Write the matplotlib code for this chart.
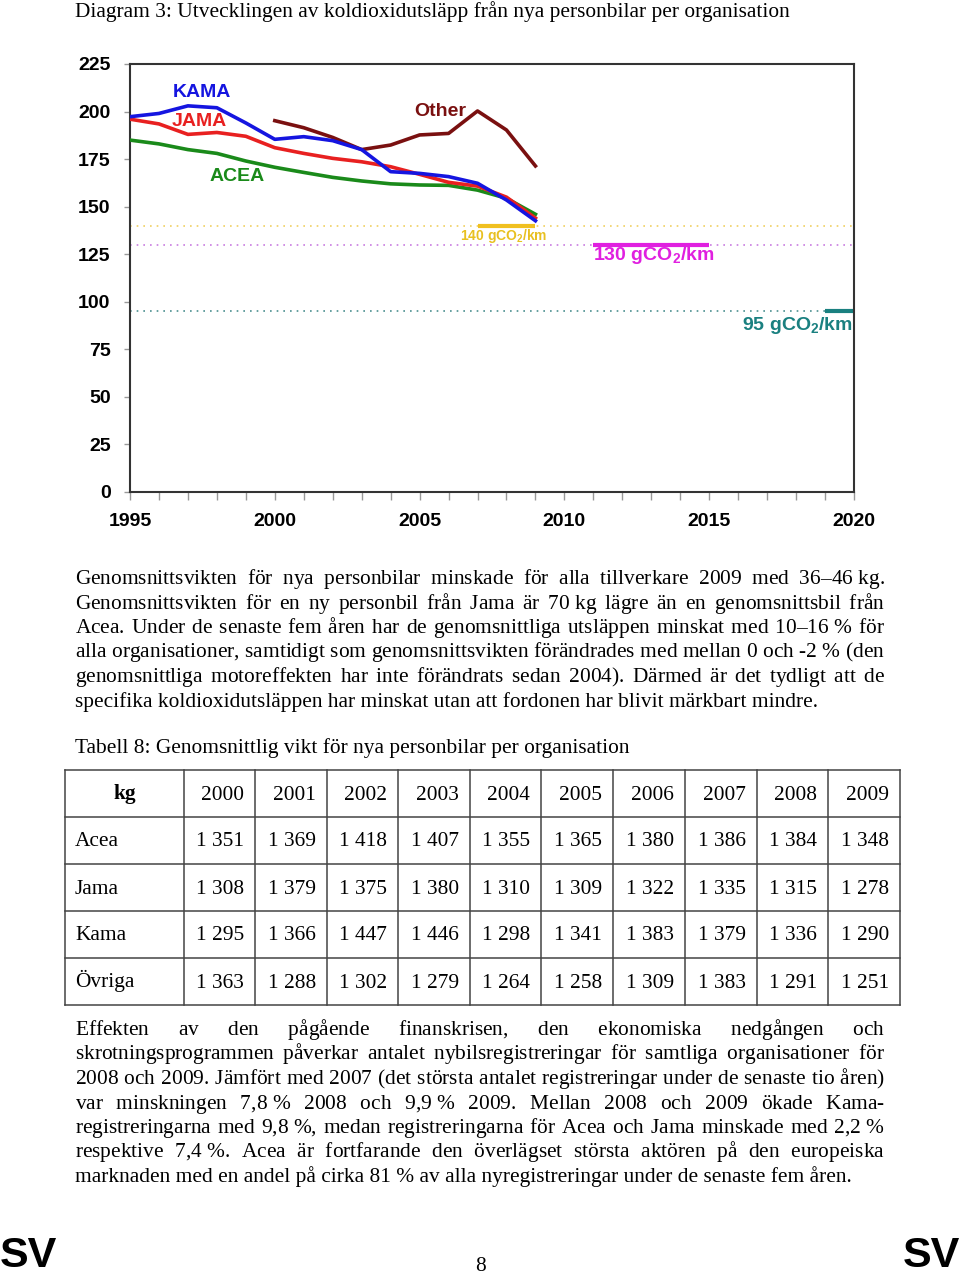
import numpy as np
import matplotlib
matplotlib.use('Agg')
import matplotlib.pyplot as plt
from matplotlib.ticker import MultipleLocator

plt.rcParams['mathtext.fontset'] = 'custom'
plt.rcParams['mathtext.rm'] = 'Liberation Sans:bold'
plt.rcParams['mathtext.it'] = 'Liberation Sans:bold'

# ---------------------------------------------------------------- data
years = np.arange(1995, 2010)
kama = [197.3, 199, 203, 202, 194, 185.4, 186.8, 184.7, 180, 168.4,
        167.5, 165.8, 162.3, 153.5, 142.6]
jama = [196, 193.5, 188, 189, 187, 181, 178, 175.4, 173.6, 171,
        167, 162.8, 160.8, 155, 144]
acea = [185, 183, 180, 178, 174, 170.7, 168, 165.4, 163.5, 162,
        161.4, 161.2, 158.7, 154.4, 146]
other_years = np.arange(2000, 2010)
other = [195.2, 191.5, 186.4, 180, 182.4, 187.7, 188.5, 200.3, 190.3, 171.4]

targets = [140, 130, 95]
target_spans = [(2007, 2009), (2011, 2015), (2019, 2020)]
target_labels = [r'140 gCO$_2$/km', r'130 gCO$_2$/km', r'95 gCO$_2$/km']

table_cols = ['2000', '2001', '2002', '2003', '2004', '2005', '2006',
              '2007', '2008', '2009']
table_rows = ['Acea', 'Jama', 'Kama', 'Övriga']
w_acea = ['1 351', '1 369', '1 418', '1 407', '1 355', '1 365', '1 380', '1 386', '1 384', '1 348']
w_jama = ['1 308', '1 379', '1 375', '1 380', '1 310', '1 309', '1 322', '1 335', '1 315', '1 278']
w_kama = ['1 295', '1 366', '1 447', '1 446', '1 298', '1 341', '1 383', '1 379', '1 336', '1 290']
w_ovr = ['1 363', '1 288', '1 302', '1 279', '1 264', '1 258', '1 309', '1 383', '1 291', '1 251']

NB = '\u00a0'
para1 = [
    'Genomsnittsvikten för nya personbilar minskade för alla tillverkare 2009 med 36–46' + NB + 'kg.',
    'Genomsnittsvikten för en ny personbil från Jama är 70' + NB + 'kg lägre än en genomsnittsbil från',
    'Acea. Under de senaste fem åren har de genomsnittliga utsläppen minskat med 10–16' + NB + '% för',
    'alla organisationer, samtidigt som genomsnittsvikten förändrades med mellan 0 och -2' + NB + '% (den',
    'genomsnittliga motoreffekten har inte förändrats sedan 2004). Därmed är det tydligt att de',
    'specifika koldioxidutsläppen har minskat utan att fordonen har blivit märkbart mindre.',
]
para2 = [
    'Effekten av den pågående finanskrisen, den ekonomiska nedgången och',
    'skrotningsprogrammen påverkar antalet nybilsregistreringar för samtliga organisationer för',
    '2008 och 2009. Jämfört med 2007 (det största antalet registreringar under de senaste tio åren)',
    'var minskningen 7,8' + NB + '% 2008 och 9,9' + NB + '% 2009. Mellan 2008 och 2009 ökade Kama-',
    'registreringarna med 9,8' + NB + '%, medan registreringarna för Acea och Jama minskade med 2,2' + NB + '%',
    'respektive 7,4' + NB + '%. Acea är fortfarande den överlägset största aktören på den europeiska',
    'marknaden med en andel på cirka 81' + NB + '% av alla nyregistreringar under de senaste fem åren.',
]

# ---------------------------------------------------------------- page
W, H = 960, 1275
fig = plt.figure(figsize=(W / 100, H / 100), dpi=100)
fig.patch.set_facecolor('white')
page = fig.add_axes([0, 0, 1, 1])
page.set_xlim(0, W)
page.set_ylim(H, 0)
page.set_axis_off()

SERIF = 'Liberation Serif'
SANS = 'Liberation Sans'
BODY = 15.4
BASE = 6  # baseline offset below the visual line centre, px
renderer = fig.canvas.get_renderer()


def text_width(s, size=BODY, family=SERIF):
    t = page.text(0, 0, s, fontsize=size, family=family)
    w = t.get_window_extent(renderer=renderer).width
    t.remove()
    return w


def body(x, y, s, **kw):
    kw.setdefault('fontsize', BODY)
    page.text(x, y + BASE, s, family=SERIF, va='baseline', **kw)


def spaced(words, g):
    return ('$\\hspace{%.4f}$' % g).join(words)


def justified(lines, x0, x1, y0, dy, size=BODY):
    target = x1 - x0
    for i, line in enumerate(lines):
        y = y0 + i * dy
        words = line.split(' ')
        if i == len(lines) - 1:
            body(x0, y, line, fontsize=size)
            continue
        fs = size
        while True:
            # one \hspace unit in px at this size, and the line with no gaps
            unit = (text_width(spaced(['x', 'x'], 10), fs)
                    - text_width(spaced(['x', 'x'], 0), fs)) / 10
            natural = text_width(spaced(words, 0), fs)
            min_gap = 0.2 * fs / 0.72
            if natural + min_gap * (len(words) - 1) <= target or fs < 10:
                break
            fs -= 0.2
        gap = (target - natural) / (len(words) - 1)
        body(x0, y, spaced(words, gap / unit), fontsize=fs)


body(75, 11, 'Diagram 3: Utvecklingen av koldioxidutsläpp från nya personbilar per organisation')

justified(para1, 75, 885, 578, 24.5)

body(75, 747, 'Tabell 8: Genomsnittlig vikt för nya personbilar per organisation')

# table
col_x = [65, 184, 255, 327, 398, 470, 541, 613, 685, 757, 828, 900]
row_y = [770, 817, 864, 911, 958, 1005]
for x in col_x:
    page.plot([x, x], [row_y[0], row_y[-1]], color='#444444', lw=1.1)
for y in row_y:
    page.plot([col_x[0], col_x[-1]], [y, y], color='#444444', lw=1.1)

body((col_x[0] + col_x[1]) / 2, (row_y[0] + row_y[1]) / 2, 'kg',
     weight='bold', ha='center')
for j, c in enumerate(table_cols):
    body(col_x[j + 2] - 11, (row_y[0] + row_y[1]) / 2, c, ha='right')
for i, (name, vals) in enumerate(zip(table_rows, [w_acea, w_jama, w_kama, w_ovr])):
    yc = (row_y[i + 1] + row_y[i + 2]) / 2
    body(75, yc, name)
    for j, v in enumerate(vals):
        body(col_x[j + 2] - 11, yc, v.replace(' ', NB), ha='right')

justified(para2, 75, 885, 1029, 24.5)

# footer
page.text(0, 1256, 'SV', fontsize=31, family=SANS, weight='bold', va='center', ha='left')
page.text(W, 1256, 'SV', fontsize=31, family=SANS, weight='bold', va='center', ha='right')
body(480, 1265, '8', ha='center')

# ---------------------------------------------------------------- chart
ax = fig.add_axes([130 / W, 1 - 492 / H, (854 - 130) / W, (492 - 64) / H])
ax.set_xlim(1995, 2020)
ax.set_ylim(0, 225)

for y, col in zip(targets, ['#f0d060', '#c87ce0', '#4a8f8f']):
    ax.axhline(y, color=col, lw=1.2, ls=(0, (1, 3)), zorder=1)
for y, (a, b), col in zip(targets, target_spans, ['#f0c020', '#e020e0', '#1a8080']):
    ax.plot([a, b], [y, y], color=col, lw=3, solid_capstyle='butt', zorder=2)

ax.plot(years, acea, color='#1a8a1a', lw=2.6, zorder=3)
ax.plot(years, jama, color='#e82020', lw=2.6, zorder=4)
ax.plot(years, kama, color='#1515e0', lw=2.6, zorder=5)
ax.plot(other_years, other, color='#7a1010', lw=2.6, zorder=3)

lab = dict(fontsize=14, family=SANS, weight='bold', ha='center', va='center')
ax.text(1997.5, 209.8, 'KAMA', color='#1515e0', **lab)
ax.text(1997.4, 195, 'JAMA', color='#e82020', **lab)
ax.text(1998.7, 166, 'ACEA', color='#1a8a1a', **lab)
ax.text(2005.7, 200, 'Other', color='#7a1010', **lab)

ax.text(504, 236, target_labels[0], transform=page.transData, color='#e8c020',
        fontsize=10, family=SANS, weight='bold', ha='center', va='center')
ax.text(654, 255, target_labels[1], transform=page.transData, color='#e020e0',
        fontsize=14, family=SANS, weight='bold', ha='center', va='center')
ax.text(797, 326, target_labels[2], transform=page.transData, color='#1a8080',
        fontsize=14, family=SANS, weight='bold', ha='center', va='center')

ax.xaxis.set_major_locator(MultipleLocator(5))
ax.xaxis.set_minor_locator(MultipleLocator(1))
ax.yaxis.set_major_locator(MultipleLocator(25))
ax.tick_params(axis='x', which='both', direction='out', length=6, width=1,
               color='#999999', pad=9)
ax.tick_params(axis='y', which='major', direction='out', length=4, width=1,
               color='#999999', pad=10)
for lbl in ax.get_xticklabels() + ax.get_yticklabels():
    lbl.set_fontfamily(SANS)
    lbl.set_fontweight('bold')
    lbl.set_fontsize(14)
for s in ax.spines.values():
    s.set_color('#333333')
    s.set_linewidth(1.5)
ax.set_facecolor('none')

fig.savefig('out.png', dpi=100)
